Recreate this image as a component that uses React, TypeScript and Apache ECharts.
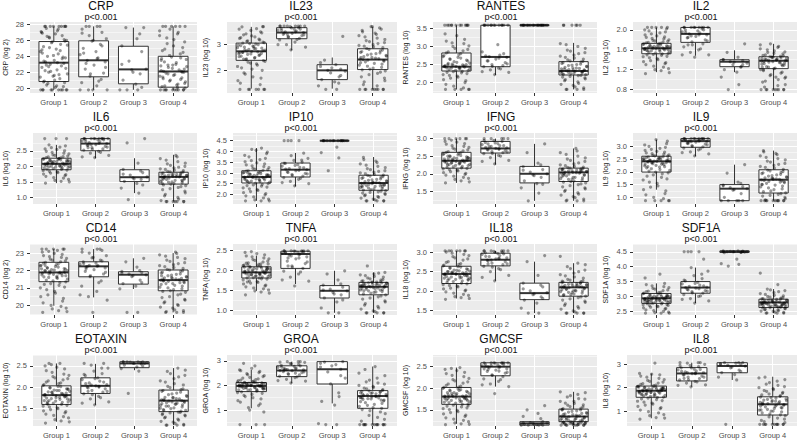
import React, { useEffect, useRef } from "react";
import * as echarts from "echarts";

const GROUPS = ["Group 1", "Group 2", "Group 3", "Group 4"];
const MARKERS = ["CRP", "IL23", "RANTES", "IL2", "IL6", "IP10", "IFNG", "IL9", "CD14", "TNFA", "IL18", "SDF1A", "EOTAXIN", "GROA", "GMCSF", "IL8"];
const Y_TITLES = ["CRP (log 2)", "IL23 (log 10)", "RANTES (log 10)", "IL2 (log 10)", "IL6 (log 10)", "IP10 (log 10)", "IFNG (log 10)", "IL9 (log 10)", "CD14 (log 2)", "TNFA (log 10)", "IL18 (log 10)", "SDF1A (log 10)", "EOTAXIN (log 10)", "GROA (log 10)", "GMCSF (log 10)", "IL8 (log 10)"];
const P_LABELS = ["p<0.001", "p<0.001", "p<0.001", "p<0.001", "p<0.001", "p<0.001", "p<0.001", "p<0.001", "p<0.001", "p<0.001", "p<0.001", "p<0.001", "p<0.001", "p<0.001", "p<0.001", "p<0.001"];

const Y_LIMITS = [[19.4, 28.3], [1.12, 3.88], [1.71, 3.68], [0.73, 2.16], [0.79, 3.07], [1.55, 4.86], [1.14, 3.16], [0.74, 3.52], [19.45, 23.52], [0.875, 2.65], [1.37, 3.22], [2.38, 4.76], [1.08, 2.76], [0.35, 3.24], [1.13, 2.77], [0.36, 3.4]];
const MAJOR_TICKS = [[20, 22, 24, 26, 28], [2, 3], [2.0, 2.5, 3.0, 3.5], [0.8, 1.2, 1.6, 2.0], [1.0, 1.5, 2.0, 2.5], [2.0, 2.5, 3.0, 3.5, 4.0, 4.5], [1.5, 2.0, 2.5, 3.0], [1.0, 1.5, 2.0, 2.5, 3.0], [20, 21, 22, 23], [1.0, 1.5, 2.0, 2.5], [1.5, 2.0, 2.5, 3.0], [2.5, 3.0, 3.5, 4.0, 4.5], [1.5, 2.0, 2.5], [1, 2, 3], [1.5, 2.0, 2.5], [1, 2, 3]];
const MINOR_TICKS = [[21, 23, 25, 27], [1.5, 2.5, 3.5], [1.75, 2.25, 2.75, 3.25], [1.0, 1.4, 1.8], [1.25, 1.75, 2.25, 2.75], [1.75, 2.25, 2.75, 3.25, 3.75, 4.25, 4.75], [1.25, 1.75, 2.25, 2.75], [1.25, 1.75, 2.25, 2.75, 3.25], [19.5, 20.5, 21.5, 22.5, 23.5], [1.25, 1.75, 2.25], [1.75, 2.25, 2.75], [2.75, 3.25, 3.75, 4.25, 4.75], [1.25, 1.75, 2.25, 2.75], [0.5, 1.5, 2.5], [1.25, 1.75, 2.25, 2.75], [0.5, 1.5, 2.5]];
const TICK_DECIMALS = [0, 0, 1, 1, 1, 1, 1, 1, 0, 1, 1, 1, 1, 0, 1, 0];

// box stats per group: [lower whisker, Q1, median, Q3, upper whisker]
const BOX_CRP = [[19.8, 20.84, 23.2, 25.85, 27.75], [19.8, 21.43, 23.5, 25.94, 27.75], [19.8, 20.55, 22.36, 25.26, 27.6], [19.8, 20.13, 22.1, 24.0, 27.75]];
const BOX_IL23 = [[1.29, 2.39, 2.74, 3.06, 3.69], [2.78, 3.23, 3.47, 3.66, 3.71], [1.29, 1.64, 2.0, 2.22, 2.5], [1.26, 2.03, 2.42, 2.84, 3.69]];
const BOX_RANTES = [[1.81, 2.32, 2.44, 2.82, 3.59], [2.21, 2.44, 2.71, 3.59, 3.59], [3.59, 3.59, 3.59, 3.59, 3.59], [1.81, 2.21, 2.32, 2.58, 3.1]];
const BOX_IL2 = [[1.15, 1.52, 1.63, 1.73, 2.05], [1.48, 1.75, 1.92, 2.05, 2.05], [1.15, 1.26, 1.36, 1.4, 1.59], [0.8, 1.22, 1.38, 1.46, 1.72]];
const BOX_IL6 = [[1.46, 1.89, 2.08, 2.26, 2.69], [2.26, 2.5, 2.73, 2.89, 2.89], [1.14, 1.51, 1.65, 1.89, 2.26], [0.87, 1.43, 1.66, 1.81, 2.37]];
const BOX_IP10 = [[1.7, 2.53, 2.81, 3.1, 4.16], [2.37, 2.81, 3.15, 3.46, 3.93], [4.5, 4.5, 4.5, 4.5, 4.5], [1.7, 2.19, 2.53, 2.89, 3.74]];
const BOX_IFNG = [[1.74, 2.16, 2.37, 2.61, 3.0], [2.26, 2.59, 2.72, 2.92, 3.0], [1.23, 1.74, 2.0, 2.21, 2.85], [1.23, 1.78, 2.04, 2.16, 2.72]];
const BOX_IL9 = [[1.3, 1.99, 2.41, 2.61, 3.26], [2.61, 2.96, 3.2, 3.3, 3.3], [0.87, 0.87, 1.34, 1.5, 2.28], [0.87, 1.17, 1.69, 2.08, 2.83]];
const BOX_CD14 = [[19.98, 21.36, 21.89, 22.47, 23.23], [20.46, 21.64, 22.24, 22.5, 23.23], [20.94, 21.22, 21.76, 21.93, 22.7], [19.6, 20.84, 21.45, 22.03, 23.0]];
const BOX_TNFA = [[1.48, 1.8, 1.94, 2.08, 2.36], [1.65, 2.04, 2.4, 2.47, 2.48], [0.93, 1.3, 1.48, 1.61, 1.98], [0.93, 1.38, 1.58, 1.69, 1.94]];
const BOX_IL18 = [[1.8, 2.19, 2.44, 2.64, 3.04], [2.26, 2.65, 2.81, 2.98, 3.04], [1.42, 1.77, 1.94, 2.2, 2.76], [1.42, 1.86, 2.09, 2.22, 2.72]];
const BOX_SDF1A = [[2.44, 2.77, 2.94, 3.1, 3.44], [2.78, 3.11, 3.3, 3.5, 3.97], [4.47, 4.48, 4.5, 4.53, 4.53], [2.44, 2.63, 2.8, 2.91, 3.25]];
const BOX_EOTAXIN = [[1.18, 1.59, 1.81, 2.03, 2.56], [1.58, 1.85, 2.03, 2.22, 2.55], [2.4, 2.46, 2.56, 2.6, 2.6], [1.1, 1.42, 1.68, 1.93, 2.45]];
const BOX_GROA = [[1.07, 1.75, 1.98, 2.12, 2.63], [2.09, 2.36, 2.61, 2.8, 2.97], [1.27, 2.06, 2.66, 2.97, 2.97], [0.41, 1.07, 1.57, 1.79, 2.77]];
const BOX_GMCSF = [[1.18, 1.63, 1.81, 2.02, 2.48], [2.04, 2.29, 2.5, 2.59, 2.59], [1.15, 1.15, 1.19, 1.23, 1.23], [1.15, 1.23, 1.35, 1.52, 1.92]];
const BOX_IL8 = [[0.69, 1.59, 1.87, 2.07, 2.61], [2.04, 2.29, 2.61, 2.86, 3.07], [2.33, 2.64, 2.93, 3.07, 3.07], [0.43, 0.83, 1.29, 1.61, 2.47]];

// observed points per group (first reading)
const PTS_CRP = [
  [19.8, 19.8, 19.8, 19.8, 19.8, 19.8, 20.1, 20.4, 20.7, 20.9, 21.2, 21.5, 21.8, 22.0, 22.3, 22.6, 22.8, 23.0, 23.1, 23.3, 23.5, 23.8, 24.0, 24.3, 24.6, 24.9, 25.2, 25.5, 25.8, 26.0, 26.3, 26.6, 26.9, 27.2, 27.5, 27.75, 27.75, 27.75, 27.75, 27.75],
  [19.8, 19.8, 19.8, 20.3, 20.7, 21.1, 21.5, 21.9, 22.4, 22.9, 23.3, 23.5, 23.8, 24.2, 24.6, 25.0, 25.5, 25.9, 26.2, 26.6, 27.0, 27.4, 27.75, 27.75],
  [19.8, 19.8, 19.8, 20.5, 21.0, 21.8, 22.3, 22.4, 23.4, 24.6, 25.3, 26.2, 27.6, 27.6],
  [19.8, 19.8, 19.8, 19.8, 19.8, 19.8, 20.0, 20.2, 20.5, 20.8, 21.0, 21.3, 21.5, 21.7, 21.9, 22.0, 22.1, 22.3, 22.5, 22.7, 22.9, 23.2, 23.5, 23.8, 24.1, 24.5, 24.9, 25.3, 25.8, 26.3, 26.8, 27.2, 27.75, 27.75, 27.75, 27.75],
];
const PTS_IL23 = [
  [1.26, 1.26, 1.26, 1.26, 1.45, 1.6, 1.75, 1.9, 2.0, 2.1, 2.2, 2.28, 2.35, 2.42, 2.48, 2.53, 2.58, 2.62, 2.66, 2.7, 2.74, 2.77, 2.8, 2.84, 2.88, 2.92, 2.96, 3.0, 3.04, 3.08, 3.13, 3.18, 3.24, 3.3, 3.38, 3.46, 3.55, 3.62, 3.69, 3.7],
  [2.8, 2.9, 3.0, 3.1, 3.18, 3.24, 3.3, 3.35, 3.4, 3.44, 3.47, 3.5, 3.53, 3.56, 3.6, 3.63, 3.66, 3.7, 3.72, 3.72, 3.72, 3.72, 3.72, 3.72],
  [1.26, 1.26, 1.4, 1.55, 1.64, 1.75, 1.9, 1.97, 2.0, 2.05, 2.15, 2.22, 2.4, 3.32],
  [1.26, 1.26, 1.26, 1.26, 1.26, 1.45, 1.6, 1.75, 1.88, 1.98, 2.05, 2.12, 2.2, 2.27, 2.33, 2.38, 2.42, 2.46, 2.5, 2.55, 2.6, 2.65, 2.7, 2.76, 2.82, 2.88, 2.94, 3.0, 3.08, 3.16, 3.25, 3.35, 3.45, 3.55, 3.65, 3.7],
];
const PTS_RANTES = [
  [1.81, 1.81, 1.81, 1.9, 2.0, 2.08, 2.15, 2.2, 2.25, 2.28, 2.31, 2.34, 2.37, 2.4, 2.42, 2.44, 2.46, 2.48, 2.5, 2.53, 2.56, 2.6, 2.64, 2.68, 2.72, 2.77, 2.82, 2.88, 2.95, 3.02, 3.1, 3.2, 3.35, 3.59, 3.59, 3.59, 3.59, 3.59, 3.59, 3.59],
  [2.22, 2.28, 2.35, 2.4, 2.44, 2.47, 2.5, 2.55, 2.6, 2.65, 2.7, 2.72, 2.76, 2.85, 3.05, 3.59, 3.59, 3.59, 3.59, 3.59, 3.59, 3.59, 3.59, 3.59],
  [3.59, 3.59, 3.59, 3.59, 3.59, 3.59, 3.59, 3.59, 3.59, 3.59, 3.59, 3.59, 3.59, 3.59],
  [1.81, 1.81, 1.85, 1.92, 1.98, 2.05, 2.1, 2.15, 2.19, 2.22, 2.25, 2.27, 2.29, 2.31, 2.33, 2.35, 2.37, 2.39, 2.41, 2.44, 2.47, 2.5, 2.53, 2.57, 2.6, 2.65, 2.7, 2.76, 2.83, 2.9, 3.0, 3.08, 3.59, 3.59, 3.59, 3.59],
];
const PTS_IL2 = [
  [1.12, 1.18, 1.22, 1.27, 1.32, 1.36, 1.4, 1.44, 1.47, 1.5, 1.52, 1.54, 1.56, 1.58, 1.6, 1.61, 1.62, 1.63, 1.64, 1.65, 1.66, 1.67, 1.68, 1.7, 1.71, 1.72, 1.74, 1.76, 1.78, 1.8, 1.83, 1.86, 1.9, 1.94, 1.98, 2.02, 2.05, 2.05, 2.05, 1.6],
  [1.45, 1.5, 1.55, 1.6, 1.66, 1.72, 1.76, 1.8, 1.84, 1.87, 1.9, 1.92, 1.94, 1.96, 1.98, 2.0, 2.02, 2.05, 2.05, 2.05, 2.05, 2.05, 2.05, 1.7],
  [0.8, 0.9, 1.05, 1.15, 1.2, 1.26, 1.3, 1.33, 1.36, 1.38, 1.4, 1.45, 1.55, 1.72],
  [0.8, 0.8, 0.8, 0.8, 0.8, 0.85, 0.9, 0.95, 1.0, 1.05, 1.1, 1.15, 1.2, 1.23, 1.26, 1.29, 1.32, 1.34, 1.36, 1.38, 1.39, 1.4, 1.42, 1.44, 1.46, 1.48, 1.5, 1.53, 1.56, 1.6, 1.65, 1.7, 1.05, 1.2, 1.35, 1.45],
];
const PTS_IL6 = [
  [1.46, 1.52, 1.58, 1.64, 1.7, 1.75, 1.8, 1.84, 1.88, 1.91, 1.94, 1.97, 1.99, 2.01, 2.03, 2.05, 2.07, 2.09, 2.11, 2.13, 2.15, 2.17, 2.19, 2.21, 2.23, 2.25, 2.28, 2.31, 2.35, 2.4, 2.45, 2.5, 2.56, 2.62, 2.69, 2.89, 2.89, 2.0, 2.1, 2.2],
  [2.28, 2.35, 2.42, 2.48, 2.52, 2.56, 2.6, 2.64, 2.67, 2.7, 2.73, 2.76, 2.79, 2.82, 2.85, 2.87, 2.89, 2.89, 2.89, 2.89, 2.89, 2.89, 2.89, 2.6],
  [0.93, 1.14, 1.3, 1.45, 1.52, 1.58, 1.63, 1.66, 1.72, 1.8, 1.9, 2.1, 2.75, 2.89],
  [0.87, 0.87, 0.87, 0.87, 0.95, 1.05, 1.15, 1.25, 1.32, 1.38, 1.43, 1.47, 1.51, 1.55, 1.58, 1.61, 1.64, 1.66, 1.68, 1.7, 1.72, 1.74, 1.76, 1.79, 1.82, 1.86, 1.9, 1.95, 2.0, 2.08, 2.15, 2.25, 2.35, 1.6, 1.7, 1.5],
];
const PTS_IP10 = [
  [1.7, 1.7, 1.78, 1.88, 1.98, 2.08, 2.18, 2.26, 2.34, 2.41, 2.47, 2.52, 2.57, 2.62, 2.66, 2.7, 2.74, 2.78, 2.81, 2.84, 2.87, 2.9, 2.93, 2.96, 3.0, 3.04, 3.08, 3.12, 3.18, 3.25, 3.33, 3.42, 3.52, 3.62, 3.75, 3.9, 4.05, 4.16, 2.6, 2.9],
  [2.4, 2.5, 2.6, 2.7, 2.78, 2.85, 2.92, 2.98, 3.05, 3.1, 3.15, 3.2, 3.26, 3.32, 3.38, 3.44, 3.5, 3.58, 3.68, 3.8, 3.92, 4.5, 4.5, 4.5],
  [3.1, 3.7, 3.95, 4.2, 4.5, 4.5, 4.5, 4.5, 4.5, 4.5, 4.5, 4.5, 4.5, 4.5],
  [1.7, 1.7, 1.7, 1.78, 1.86, 1.94, 2.0, 2.06, 2.12, 2.17, 2.22, 2.27, 2.32, 2.37, 2.41, 2.45, 2.49, 2.53, 2.57, 2.61, 2.65, 2.7, 2.75, 2.8, 2.85, 2.9, 2.96, 3.03, 3.1, 3.2, 3.3, 3.42, 3.55, 3.72, 2.4, 2.5],
];
const PTS_IFNG = [
  [1.74, 1.8, 1.87, 1.93, 1.98, 2.03, 2.08, 2.12, 2.15, 2.18, 2.21, 2.24, 2.27, 2.3, 2.32, 2.34, 2.36, 2.38, 2.4, 2.42, 2.44, 2.46, 2.49, 2.52, 2.55, 2.58, 2.61, 2.65, 2.7, 2.75, 2.8, 2.86, 2.92, 3.0, 3.0, 3.0, 3.0, 2.35, 2.25, 2.45],
  [2.28, 2.38, 2.46, 2.52, 2.57, 2.6, 2.63, 2.66, 2.69, 2.72, 2.74, 2.77, 2.8, 2.83, 2.86, 2.89, 2.92, 2.95, 3.0, 3.0, 3.0, 3.0, 2.7, 2.85],
  [1.23, 1.45, 1.6, 1.72, 1.8, 1.9, 1.97, 2.0, 2.05, 2.12, 2.2, 2.3, 2.6, 2.85],
  [1.23, 1.23, 1.28, 1.35, 1.42, 1.5, 1.57, 1.63, 1.69, 1.74, 1.78, 1.82, 1.86, 1.9, 1.94, 1.97, 2.0, 2.02, 2.04, 2.06, 2.08, 2.1, 2.12, 2.14, 2.16, 2.19, 2.23, 2.28, 2.35, 2.42, 2.5, 2.6, 2.72, 1.95, 2.05, 1.85],
];
const PTS_IL9 = [
  [0.87, 0.87, 0.87, 1.0, 1.15, 1.3, 1.45, 1.6, 1.72, 1.83, 1.92, 1.99, 2.06, 2.12, 2.18, 2.23, 2.28, 2.32, 2.36, 2.39, 2.41, 2.43, 2.45, 2.47, 2.5, 2.53, 2.56, 2.59, 2.62, 2.66, 2.71, 2.77, 2.84, 2.92, 3.0, 3.1, 3.26, 2.3, 2.4, 2.5],
  [2.62, 2.7, 2.78, 2.86, 2.93, 2.98, 3.03, 3.08, 3.12, 3.16, 3.19, 3.21, 3.23, 3.25, 3.27, 3.28, 3.29, 3.3, 3.3, 3.3, 3.3, 3.3, 3.3, 3.1],
  [0.87, 0.87, 0.87, 0.87, 1.0, 1.15, 1.28, 1.34, 1.38, 1.42, 1.48, 1.6, 1.95, 2.28],
  [0.87, 0.87, 0.87, 0.87, 0.87, 0.87, 0.95, 1.05, 1.12, 1.18, 1.25, 1.33, 1.41, 1.48, 1.55, 1.61, 1.66, 1.7, 1.74, 1.78, 1.83, 1.88, 1.93, 1.98, 2.04, 2.1, 2.17, 2.25, 2.33, 2.42, 2.52, 2.62, 2.72, 2.83, 1.6, 1.75],
];
const PTS_CD14 = [
  [19.6, 19.7, 19.85, 20.0, 20.25, 20.5, 20.7, 20.9, 21.05, 21.2, 21.3, 21.4, 21.5, 21.6, 21.68, 21.75, 21.82, 21.88, 21.93, 21.98, 22.03, 22.08, 22.14, 22.2, 22.27, 22.34, 22.42, 22.5, 22.6, 22.7, 22.8, 22.92, 23.05, 23.15, 23.23, 23.23, 23.23, 21.85, 22.0, 21.7],
  [19.6, 20.3, 20.5, 20.8, 21.1, 21.4, 21.65, 21.8, 21.95, 22.05, 22.15, 22.22, 22.28, 22.35, 22.42, 22.5, 22.6, 22.72, 22.85, 23.0, 23.15, 23.23, 23.23, 22.2],
  [19.6, 19.6, 20.95, 21.1, 21.25, 21.45, 21.65, 21.75, 21.8, 21.88, 21.95, 22.2, 22.5, 22.7],
  [19.6, 19.6, 19.7, 19.85, 20.0, 20.15, 20.3, 20.45, 20.6, 20.75, 20.85, 20.95, 21.05, 21.15, 21.25, 21.35, 21.42, 21.48, 21.55, 21.62, 21.7, 21.78, 21.86, 21.95, 22.03, 22.12, 22.22, 22.33, 22.45, 22.6, 22.75, 22.9, 23.05, 21.5, 21.3, 21.6],
];
const PTS_TNFA = [
  [1.38, 1.45, 1.5, 1.55, 1.6, 1.65, 1.69, 1.73, 1.77, 1.8, 1.83, 1.85, 1.87, 1.89, 1.91, 1.93, 1.95, 1.97, 1.99, 2.01, 2.03, 2.05, 2.07, 2.09, 2.11, 2.14, 2.17, 2.2, 2.24, 2.28, 2.33, 2.38, 2.44, 1.9, 1.95, 2.0, 1.85, 2.05, 1.7, 2.15],
  [1.6, 1.72, 1.82, 1.9, 1.97, 2.04, 2.1, 2.16, 2.22, 2.28, 2.33, 2.37, 2.4, 2.42, 2.44, 2.45, 2.46, 2.47, 2.48, 2.48, 2.48, 2.48, 2.3, 2.1],
  [0.93, 0.93, 1.05, 1.2, 1.3, 1.38, 1.44, 1.48, 1.52, 1.57, 1.62, 1.75, 1.9, 1.98],
  [0.93, 0.93, 0.93, 0.98, 1.05, 1.12, 1.2, 1.27, 1.33, 1.38, 1.42, 1.46, 1.5, 1.53, 1.56, 1.58, 1.6, 1.62, 1.64, 1.66, 1.68, 1.7, 1.72, 1.75, 1.78, 1.82, 1.86, 1.9, 1.94, 2.1, 1.55, 1.6, 1.45, 1.65, 1.5, 1.7],
];
const PTS_IL18 = [
  [1.78, 1.82, 1.88, 1.94, 2.0, 2.05, 2.1, 2.14, 2.18, 2.22, 2.26, 2.3, 2.33, 2.36, 2.39, 2.42, 2.44, 2.46, 2.48, 2.5, 2.53, 2.56, 2.59, 2.62, 2.65, 2.69, 2.74, 2.8, 2.86, 2.92, 2.98, 3.04, 3.04, 3.04, 3.04, 2.4, 2.45, 2.35, 2.5, 2.3],
  [2.26, 2.4, 2.5, 2.58, 2.64, 2.68, 2.72, 2.76, 2.8, 2.83, 2.86, 2.89, 2.92, 2.95, 2.97, 2.99, 3.01, 3.03, 3.04, 3.04, 3.04, 3.04, 2.85, 2.7],
  [1.42, 1.42, 1.55, 1.68, 1.76, 1.84, 1.9, 1.95, 2.0, 2.1, 2.2, 2.4, 2.76, 2.92],
  [1.42, 1.42, 1.42, 1.48, 1.55, 1.62, 1.7, 1.76, 1.82, 1.86, 1.9, 1.94, 1.98, 2.01, 2.04, 2.07, 2.09, 2.11, 2.13, 2.15, 2.17, 2.19, 2.21, 2.24, 2.28, 2.33, 2.39, 2.46, 2.54, 2.63, 2.72, 2.9, 2.0, 2.1, 2.2, 1.95],
];
const PTS_SDF1A = [
  [2.44, 2.44, 2.48, 2.53, 2.58, 2.62, 2.66, 2.7, 2.73, 2.76, 2.79, 2.82, 2.84, 2.86, 2.88, 2.9, 2.92, 2.94, 2.96, 2.98, 3.0, 3.02, 3.04, 3.07, 3.1, 3.13, 3.16, 3.2, 3.25, 3.3, 3.36, 3.44, 3.62, 3.75, 2.9, 2.85, 2.95, 3.0, 2.8, 2.7],
  [2.78, 2.85, 2.93, 3.0, 3.06, 3.11, 3.16, 3.2, 3.24, 3.28, 3.31, 3.34, 3.38, 3.42, 3.47, 3.52, 3.6, 3.7, 3.85, 3.97, 4.25, 4.5, 4.5, 4.5],
  [4.02, 4.08, 4.1, 4.25, 4.47, 4.48, 4.5, 4.5, 4.51, 4.52, 4.53, 4.53, 4.5, 4.49],
  [2.44, 2.44, 2.47, 2.5, 2.53, 2.56, 2.59, 2.62, 2.64, 2.66, 2.68, 2.7, 2.72, 2.74, 2.76, 2.78, 2.8, 2.82, 2.84, 2.86, 2.88, 2.9, 2.92, 2.95, 2.98, 3.02, 3.07, 3.13, 3.2, 3.25, 3.4, 3.78, 2.7, 2.75, 2.65, 2.85],
];
const PTS_EOTAXIN = [
  [1.15, 1.2, 1.27, 1.33, 1.39, 1.44, 1.49, 1.53, 1.57, 1.61, 1.64, 1.67, 1.7, 1.73, 1.76, 1.79, 1.81, 1.83, 1.86, 1.89, 1.92, 1.95, 1.98, 2.01, 2.04, 2.08, 2.12, 2.17, 2.22, 2.28, 2.35, 2.43, 2.5, 2.56, 2.56, 1.8, 1.75, 1.85, 1.65, 1.95],
  [1.58, 1.65, 1.72, 1.78, 1.84, 1.88, 1.92, 1.96, 2.0, 2.03, 2.06, 2.1, 2.14, 2.18, 2.22, 2.27, 2.32, 2.38, 2.45, 2.52, 2.56, 2.56, 2.0, 1.9],
  [1.85, 2.38, 2.44, 2.48, 2.52, 2.55, 2.57, 2.58, 2.59, 2.6, 2.6, 2.6, 2.6, 2.56],
  [1.1, 1.1, 1.12, 1.17, 1.22, 1.27, 1.32, 1.37, 1.41, 1.45, 1.49, 1.53, 1.57, 1.6, 1.63, 1.66, 1.69, 1.72, 1.75, 1.78, 1.82, 1.86, 1.9, 1.94, 1.99, 2.05, 2.12, 2.2, 2.28, 2.37, 2.45, 1.5, 1.6, 1.7, 1.4, 1.65],
];
const PTS_GROA = [
  [0.41, 0.41, 0.92, 1.1, 1.25, 1.38, 1.5, 1.6, 1.68, 1.74, 1.79, 1.83, 1.87, 1.9, 1.93, 1.96, 1.98, 2.0, 2.02, 2.04, 2.06, 2.08, 2.1, 2.12, 2.15, 2.18, 2.22, 2.27, 2.33, 2.4, 2.48, 2.57, 2.63, 2.8, 2.9, 1.95, 2.0, 1.85, 2.05, 1.9],
  [2.1, 2.18, 2.25, 2.32, 2.38, 2.43, 2.48, 2.52, 2.56, 2.6, 2.63, 2.66, 2.7, 2.74, 2.78, 2.82, 2.86, 2.9, 2.94, 2.97, 2.97, 2.6, 2.5, 2.7],
  [0.41, 0.41, 0.45, 1.2, 1.35, 1.55, 2.06, 2.3, 2.55, 2.66, 2.75, 2.85, 2.95, 2.97],
  [0.41, 0.41, 0.41, 0.41, 0.41, 0.41, 0.41, 0.55, 0.7, 0.85, 0.98, 1.07, 1.15, 1.23, 1.3, 1.37, 1.43, 1.49, 1.54, 1.58, 1.62, 1.66, 1.7, 1.74, 1.78, 1.83, 1.89, 1.96, 2.05, 2.15, 2.3, 2.5, 2.77, 1.5, 1.6, 1.45],
];
const PTS_GMCSF = [
  [1.16, 1.18, 1.23, 1.29, 1.35, 1.41, 1.46, 1.51, 1.55, 1.59, 1.63, 1.66, 1.69, 1.72, 1.75, 1.77, 1.79, 1.81, 1.83, 1.85, 1.88, 1.91, 1.94, 1.97, 2.0, 2.03, 2.07, 2.12, 2.17, 2.23, 2.3, 2.37, 2.44, 2.48, 1.8, 1.75, 1.85, 1.7, 1.9, 1.6],
  [1.88, 2.04, 2.1, 2.16, 2.22, 2.27, 2.31, 2.35, 2.39, 2.42, 2.45, 2.48, 2.5, 2.52, 2.54, 2.56, 2.58, 2.59, 2.59, 2.59, 2.59, 2.45, 2.4, 2.5],
  [1.15, 1.15, 1.15, 1.16, 1.17, 1.18, 1.19, 1.2, 1.21, 1.23, 1.35, 1.42, 1.5, 1.6],
  [1.15, 1.15, 1.15, 1.16, 1.17, 1.18, 1.19, 1.2, 1.21, 1.22, 1.23, 1.25, 1.27, 1.29, 1.31, 1.33, 1.35, 1.37, 1.39, 1.42, 1.45, 1.48, 1.51, 1.54, 1.58, 1.62, 1.66, 1.7, 1.75, 1.8, 1.86, 1.92, 1.3, 1.4, 1.25, 1.2],
];
const PTS_IL8 = [
  [0.65, 0.72, 0.85, 0.98, 1.1, 1.2, 1.3, 1.38, 1.45, 1.52, 1.58, 1.63, 1.67, 1.71, 1.75, 1.78, 1.81, 1.84, 1.87, 1.9, 1.93, 1.96, 1.99, 2.02, 2.05, 2.09, 2.14, 2.2, 2.27, 2.35, 2.45, 2.55, 2.61, 3.05, 1.85, 1.9, 1.8, 1.95, 1.7, 2.0],
  [2.04, 2.12, 2.2, 2.27, 2.33, 2.39, 2.45, 2.5, 2.55, 2.6, 2.64, 2.68, 2.72, 2.76, 2.8, 2.85, 2.9, 2.95, 3.0, 3.05, 3.07, 3.07, 2.6, 2.4],
  [0.43, 2.33, 2.45, 2.56, 2.65, 2.75, 2.85, 2.92, 2.97, 3.0, 3.03, 3.05, 3.07, 3.07],
  [0.43, 0.43, 0.43, 0.43, 0.43, 0.43, 0.5, 0.6, 0.7, 0.8, 0.88, 0.96, 1.04, 1.11, 1.18, 1.25, 1.3, 1.35, 1.4, 1.45, 1.5, 1.55, 1.6, 1.66, 1.73, 1.8, 1.88, 1.96, 2.05, 2.15, 2.28, 2.42, 1.2, 1.3, 1.4, 1.0],
];

// observed points per group (second reading, denser parts of the clouds)
const MORE_CRP = [
  [19.8, 19.8, 19.8, 19.8, 20.2, 20.6, 21.0, 21.4, 21.7, 22.1, 22.5, 22.9, 23.2, 23.4, 23.7, 24.1, 24.4, 24.7, 25.1, 25.4, 25.7, 26.1, 26.5, 26.8, 27.1, 27.4, 27.75, 27.75, 27.75, 27.75, 20.8, 21.6, 22.7, 23.9, 24.8, 25.9, 26.4, 27.0, 20.3, 22.2],
  [19.8, 20.9, 21.8, 22.6, 23.1, 23.7, 24.4, 25.3, 26.0, 26.9, 27.75, 27.75],
  [20.1, 22.0, 23.0, 26.8],
  [19.8, 19.8, 19.8, 19.8, 20.1, 20.3, 20.6, 20.9, 21.1, 21.4, 21.6, 21.8, 22.0, 22.2, 22.4, 22.6, 22.8, 23.0, 23.3, 23.6, 23.9, 24.3, 24.7, 25.1, 25.6, 26.1, 26.6, 27.0, 27.4, 27.75, 27.75, 20.4, 21.2, 22.1, 22.9, 23.7],
];
const MORE_IL23 = [
  [1.26, 1.26, 1.26, 1.5, 1.7, 1.85, 2.05, 2.15, 2.25, 2.32, 2.38, 2.44, 2.5, 2.55, 2.6, 2.64, 2.68, 2.72, 2.76, 2.79, 2.82, 2.86, 2.9, 2.94, 2.98, 3.02, 3.06, 3.1, 3.15, 3.21, 3.27, 3.34, 3.42, 3.5, 3.6, 3.7, 2.45, 2.65, 2.85, 2.7],
  [3.0, 3.2, 3.3, 3.38, 3.45, 3.5, 3.55, 3.6, 3.65, 3.72, 3.72, 3.4],
  [1.8, 2.1, 2.3, 1.5],
  [1.26, 1.26, 1.26, 1.26, 1.4, 1.55, 1.7, 1.83, 1.93, 2.02, 2.09, 2.16, 2.24, 2.3, 2.36, 2.4, 2.44, 2.48, 2.53, 2.58, 2.63, 2.68, 2.73, 2.79, 2.85, 2.91, 2.97, 3.04, 3.12, 3.2, 3.3, 3.4, 3.5, 3.6, 3.7, 2.5],
];
const MORE_RANTES = [
  [1.81, 1.81, 1.85, 1.95, 2.05, 2.12, 2.18, 2.22, 2.27, 2.3, 2.33, 2.36, 2.38, 2.41, 2.43, 2.45, 2.47, 2.49, 2.51, 2.54, 2.58, 2.62, 2.66, 2.7, 2.75, 2.8, 2.85, 2.92, 3.0, 3.08, 3.15, 3.3, 3.59, 3.59, 3.59, 3.59, 3.59, 2.45, 2.4, 2.5],
  [2.3, 2.38, 2.45, 2.52, 2.6, 2.68, 2.74, 2.8, 3.59, 3.59, 3.59, 3.59],
  [3.59, 3.59, 3.59, 3.59],
  [1.81, 1.81, 1.88, 1.95, 2.02, 2.08, 2.13, 2.17, 2.2, 2.23, 2.26, 2.28, 2.3, 2.32, 2.34, 2.36, 2.38, 2.4, 2.42, 2.45, 2.48, 2.51, 2.55, 2.59, 2.63, 2.68, 2.73, 2.8, 2.87, 2.95, 3.05, 3.59, 3.59, 2.3, 2.35, 2.25],
];
const MORE_IL2 = [
  [1.14, 1.2, 1.25, 1.3, 1.34, 1.38, 1.42, 1.46, 1.49, 1.51, 1.53, 1.55, 1.57, 1.59, 1.6, 1.62, 1.63, 1.64, 1.65, 1.66, 1.67, 1.68, 1.69, 1.7, 1.72, 1.73, 1.75, 1.77, 1.79, 1.82, 1.85, 1.88, 1.92, 1.96, 2.0, 2.05, 2.05, 1.61, 1.65, 1.58],
  [1.5, 1.62, 1.7, 1.78, 1.85, 1.9, 1.95, 2.0, 2.05, 2.05, 2.05, 1.88],
  [1.3, 1.35, 1.4, 1.25],
  [0.8, 0.8, 0.8, 0.8, 0.88, 0.97, 1.03, 1.08, 1.13, 1.18, 1.22, 1.25, 1.28, 1.31, 1.33, 1.35, 1.37, 1.39, 1.41, 1.43, 1.45, 1.47, 1.49, 1.52, 1.55, 1.58, 1.62, 1.67, 1.72, 1.38, 1.4, 1.42, 1.36, 1.3, 1.45, 1.25],
];
const MORE_IL6 = [
  [1.5, 1.55, 1.62, 1.68, 1.73, 1.78, 1.82, 1.86, 1.9, 1.93, 1.96, 1.98, 2.0, 2.02, 2.04, 2.06, 2.08, 2.1, 2.12, 2.14, 2.16, 2.18, 2.2, 2.22, 2.24, 2.27, 2.3, 2.33, 2.37, 2.42, 2.48, 2.54, 2.6, 2.66, 2.89, 2.05, 2.15, 1.95, 2.25, 2.08],
  [2.3, 2.45, 2.55, 2.62, 2.68, 2.74, 2.8, 2.85, 2.89, 2.89, 2.89, 2.7],
  [1.4, 1.6, 1.75, 1.85],
  [0.87, 0.87, 0.87, 0.9, 1.0, 1.1, 1.2, 1.28, 1.35, 1.4, 1.45, 1.49, 1.53, 1.56, 1.59, 1.62, 1.65, 1.67, 1.69, 1.71, 1.73, 1.75, 1.78, 1.81, 1.84, 1.88, 1.92, 1.97, 2.03, 2.1, 2.2, 2.3, 1.65, 1.55, 1.75, 1.45],
];
const MORE_IP10 = [
  [1.7, 1.74, 1.83, 1.93, 2.03, 2.13, 2.22, 2.3, 2.38, 2.44, 2.5, 2.55, 2.59, 2.64, 2.68, 2.72, 2.76, 2.79, 2.82, 2.85, 2.88, 2.91, 2.94, 2.98, 3.02, 3.06, 3.1, 3.15, 3.21, 3.29, 3.37, 3.47, 3.57, 3.68, 3.82, 3.97, 4.1, 2.8, 2.7, 3.0],
  [2.55, 2.75, 2.88, 2.95, 3.02, 3.12, 3.18, 3.24, 3.35, 3.45, 3.6, 4.5],
  [4.5, 4.5, 4.5, 4.5],
  [1.7, 1.7, 1.74, 1.82, 1.9, 1.97, 2.03, 2.09, 2.15, 2.2, 2.25, 2.3, 2.35, 2.39, 2.43, 2.47, 2.51, 2.55, 2.59, 2.63, 2.68, 2.72, 2.78, 2.83, 2.88, 2.93, 3.0, 3.07, 3.15, 3.25, 3.36, 3.48, 3.62, 2.45, 2.55, 2.35],
];
const MORE_IFNG = [
  [1.77, 1.84, 1.9, 1.96, 2.01, 2.06, 2.1, 2.14, 2.17, 2.2, 2.23, 2.26, 2.29, 2.31, 2.33, 2.35, 2.37, 2.39, 2.41, 2.43, 2.45, 2.48, 2.51, 2.54, 2.57, 2.6, 2.63, 2.68, 2.73, 2.78, 2.84, 2.9, 2.96, 3.0, 3.0, 2.38, 2.32, 2.42, 2.28, 2.5],
  [2.35, 2.5, 2.58, 2.62, 2.68, 2.71, 2.75, 2.8, 2.88, 2.95, 3.0, 2.78],
  [1.7, 1.95, 2.1, 2.25],
  [1.23, 1.25, 1.32, 1.39, 1.46, 1.53, 1.6, 1.66, 1.71, 1.76, 1.8, 1.84, 1.88, 1.92, 1.96, 1.99, 2.01, 2.03, 2.05, 2.07, 2.09, 2.11, 2.13, 2.15, 2.18, 2.21, 2.25, 2.31, 2.38, 2.45, 2.55, 2.65, 2.0, 2.08, 1.9, 2.12],
];
const MORE_IL9 = [
  [0.87, 0.87, 0.95, 1.1, 1.25, 1.4, 1.55, 1.68, 1.78, 1.88, 1.96, 2.03, 2.09, 2.15, 2.2, 2.25, 2.3, 2.34, 2.37, 2.4, 2.42, 2.44, 2.46, 2.49, 2.52, 2.55, 2.58, 2.61, 2.64, 2.69, 2.74, 2.8, 2.88, 2.96, 3.05, 3.2, 2.35, 2.45, 2.55, 2.2],
  [2.75, 2.9, 3.0, 3.06, 3.14, 3.2, 3.24, 3.28, 3.3, 3.3, 3.3, 3.18],
  [0.87, 1.3, 1.45, 1.55],
  [0.87, 0.87, 0.87, 0.87, 0.87, 0.9, 1.0, 1.08, 1.15, 1.22, 1.3, 1.37, 1.44, 1.51, 1.58, 1.63, 1.68, 1.72, 1.76, 1.8, 1.85, 1.9, 1.96, 2.01, 2.07, 2.14, 2.21, 2.29, 2.38, 2.47, 2.57, 2.67, 2.78, 1.65, 1.7, 1.5],
];
const MORE_CD14 = [
  [19.65, 19.8, 19.95, 20.15, 20.4, 20.6, 20.8, 21.0, 21.15, 21.25, 21.35, 21.45, 21.55, 21.63, 21.7, 21.78, 21.85, 21.9, 21.95, 22.0, 22.05, 22.11, 22.17, 22.23, 22.3, 22.38, 22.46, 22.55, 22.65, 22.75, 22.86, 22.98, 23.1, 23.23, 23.23, 21.9, 21.8, 22.1, 21.6, 22.3],
  [20.6, 21.3, 21.7, 21.9, 22.1, 22.25, 22.4, 22.55, 22.75, 23.05, 23.23, 22.3],
  [21.3, 21.7, 21.85, 22.0],
  [19.6, 19.65, 19.75, 19.9, 20.05, 20.2, 20.35, 20.5, 20.65, 20.8, 20.9, 21.0, 21.1, 21.2, 21.3, 21.38, 21.45, 21.52, 21.58, 21.65, 21.73, 21.81, 21.9, 21.98, 22.07, 22.17, 22.28, 22.4, 22.52, 22.68, 22.82, 22.98, 21.4, 21.55, 21.25, 21.7],
];
const MORE_TNFA = [
  [1.42, 1.48, 1.53, 1.58, 1.62, 1.67, 1.71, 1.75, 1.78, 1.81, 1.84, 1.86, 1.88, 1.9, 1.92, 1.94, 1.96, 1.98, 2.0, 2.02, 2.04, 2.06, 2.08, 2.1, 2.12, 2.15, 2.18, 2.22, 2.26, 2.3, 2.35, 2.41, 2.46, 1.92, 1.97, 2.03, 1.88, 2.07, 1.8, 2.12],
  [1.75, 1.95, 2.07, 2.2, 2.3, 2.38, 2.42, 2.45, 2.47, 2.48, 2.48, 2.35],
  [1.25, 1.4, 1.5, 1.65],
  [0.93, 0.93, 0.96, 1.02, 1.09, 1.16, 1.23, 1.3, 1.35, 1.4, 1.44, 1.48, 1.51, 1.54, 1.57, 1.59, 1.61, 1.63, 1.65, 1.67, 1.69, 1.71, 1.73, 1.76, 1.8, 1.84, 1.88, 1.92, 1.58, 1.62, 1.52, 1.66, 1.48, 1.68, 1.56, 1.6],
];
const MORE_IL18 = [
  [1.8, 1.85, 1.91, 1.97, 2.02, 2.07, 2.12, 2.16, 2.2, 2.24, 2.28, 2.31, 2.34, 2.37, 2.4, 2.43, 2.45, 2.47, 2.49, 2.51, 2.54, 2.57, 2.6, 2.63, 2.67, 2.71, 2.76, 2.83, 2.89, 2.95, 3.01, 3.04, 3.04, 3.04, 2.42, 2.38, 2.47, 2.33, 2.52, 2.28],
  [2.35, 2.55, 2.62, 2.7, 2.78, 2.84, 2.9, 2.96, 3.0, 3.04, 3.04, 2.8],
  [1.8, 1.92, 2.05, 2.15],
  [1.42, 1.42, 1.45, 1.52, 1.59, 1.66, 1.73, 1.79, 1.84, 1.88, 1.92, 1.96, 2.0, 2.03, 2.06, 2.08, 2.1, 2.12, 2.14, 2.16, 2.18, 2.2, 2.23, 2.26, 2.3, 2.36, 2.42, 2.5, 2.58, 2.68, 2.05, 2.15, 1.9, 2.1, 2.0, 2.25],
];
const MORE_SDF1A = [
  [2.44, 2.46, 2.5, 2.55, 2.6, 2.64, 2.68, 2.72, 2.75, 2.78, 2.8, 2.83, 2.85, 2.87, 2.89, 2.91, 2.93, 2.95, 2.97, 2.99, 3.01, 3.03, 3.05, 3.08, 3.11, 3.14, 3.18, 3.22, 3.27, 3.33, 3.4, 2.88, 2.92, 2.96, 2.82, 3.02, 2.78, 2.9, 2.94, 2.86],
  [2.9, 3.02, 3.12, 3.18, 3.22, 3.26, 3.3, 3.36, 3.44, 3.55, 3.75, 4.5],
  [4.5, 4.5, 4.5, 4.48],
  [2.44, 2.45, 2.48, 2.51, 2.54, 2.57, 2.6, 2.63, 2.65, 2.67, 2.69, 2.71, 2.73, 2.75, 2.77, 2.79, 2.81, 2.83, 2.85, 2.87, 2.89, 2.91, 2.93, 2.96, 3.0, 3.04, 3.1, 3.16, 3.22, 2.72, 2.78, 2.68, 2.82, 2.74, 2.8, 2.76],
];
const MORE_EOTAXIN = [
  [1.18, 1.23, 1.3, 1.36, 1.42, 1.47, 1.51, 1.55, 1.59, 1.62, 1.65, 1.68, 1.71, 1.74, 1.77, 1.8, 1.82, 1.84, 1.87, 1.9, 1.93, 1.96, 1.99, 2.02, 2.06, 2.1, 2.15, 2.2, 2.25, 2.31, 2.39, 2.47, 2.53, 1.78, 1.82, 1.72, 1.88, 1.68, 1.92, 1.6],
  [1.62, 1.75, 1.82, 1.9, 1.98, 2.02, 2.08, 2.12, 2.2, 2.3, 2.45, 2.05],
  [2.5, 2.56, 2.6, 2.58],
  [1.1, 1.1, 1.14, 1.19, 1.24, 1.29, 1.34, 1.39, 1.43, 1.47, 1.51, 1.55, 1.58, 1.61, 1.64, 1.67, 1.7, 1.73, 1.76, 1.8, 1.84, 1.88, 1.92, 1.96, 2.02, 2.08, 2.15, 2.24, 2.32, 2.4, 1.55, 1.62, 1.45, 1.68, 1.75, 1.35],
];
const MORE_GROA = [
  [0.41, 1.0, 1.18, 1.32, 1.45, 1.55, 1.64, 1.71, 1.77, 1.81, 1.85, 1.88, 1.91, 1.94, 1.97, 1.99, 2.01, 2.03, 2.05, 2.07, 2.09, 2.11, 2.13, 2.16, 2.2, 2.24, 2.3, 2.36, 2.44, 2.52, 2.6, 2.7, 1.92, 1.98, 2.02, 1.88, 2.08, 1.82, 2.12, 1.95],
  [2.2, 2.35, 2.45, 2.55, 2.62, 2.68, 2.75, 2.8, 2.88, 2.95, 2.97, 2.65],
  [2.4, 2.8, 2.9, 1.7],
  [0.41, 0.41, 0.41, 0.41, 0.41, 0.41, 0.62, 0.78, 0.92, 1.02, 1.1, 1.19, 1.27, 1.34, 1.4, 1.46, 1.51, 1.56, 1.6, 1.64, 1.68, 1.72, 1.76, 1.8, 1.86, 1.92, 2.0, 2.1, 2.22, 2.4, 2.65, 1.55, 1.65, 1.4, 1.7, 1.5],
];
const MORE_GMCSF = [
  [1.17, 1.2, 1.26, 1.32, 1.38, 1.44, 1.49, 1.53, 1.57, 1.61, 1.64, 1.67, 1.7, 1.73, 1.76, 1.78, 1.8, 1.82, 1.84, 1.87, 1.9, 1.93, 1.96, 1.99, 2.02, 2.05, 2.1, 2.15, 2.2, 2.27, 2.34, 2.41, 2.46, 1.78, 1.82, 1.72, 1.88, 1.68, 1.95, 1.76],
  [2.08, 2.2, 2.3, 2.37, 2.43, 2.47, 2.51, 2.55, 2.58, 2.59, 2.59, 2.53],
  [1.15, 1.17, 1.2, 1.3],
  [1.15, 1.15, 1.15, 1.15, 1.16, 1.17, 1.18, 1.19, 1.2, 1.22, 1.24, 1.26, 1.28, 1.3, 1.32, 1.34, 1.36, 1.38, 1.41, 1.44, 1.47, 1.5, 1.53, 1.57, 1.61, 1.65, 1.7, 1.76, 1.83, 1.9, 1.28, 1.35, 1.22, 1.42, 1.18, 1.5],
];
const MORE_IL8 = [
  [0.7, 0.8, 0.92, 1.04, 1.15, 1.25, 1.34, 1.42, 1.49, 1.55, 1.6, 1.65, 1.69, 1.73, 1.77, 1.8, 1.83, 1.86, 1.89, 1.92, 1.95, 1.98, 2.01, 2.04, 2.07, 2.11, 2.17, 2.24, 2.31, 2.4, 2.5, 2.58, 1.88, 1.92, 1.82, 1.97, 1.75, 2.02, 1.65, 1.85],
  [2.1, 2.25, 2.35, 2.45, 2.55, 2.62, 2.7, 2.78, 2.85, 2.95, 3.07, 2.65],
  [2.7, 2.88, 3.0, 3.07],
  [0.43, 0.43, 0.43, 0.43, 0.43, 0.55, 0.65, 0.75, 0.84, 0.92, 1.0, 1.07, 1.14, 1.21, 1.27, 1.32, 1.37, 1.42, 1.47, 1.52, 1.57, 1.63, 1.69, 1.76, 1.84, 1.92, 2.0, 2.1, 2.22, 2.35, 2.45, 1.25, 1.35, 1.15, 1.45, 1.05],
];

const BOXES = [BOX_CRP, BOX_IL23, BOX_RANTES, BOX_IL2, BOX_IL6, BOX_IP10, BOX_IFNG, BOX_IL9, BOX_CD14, BOX_TNFA, BOX_IL18, BOX_SDF1A, BOX_EOTAXIN, BOX_GROA, BOX_GMCSF, BOX_IL8];
const POINTS = [PTS_CRP, PTS_IL23, PTS_RANTES, PTS_IL2, PTS_IL6, PTS_IP10, PTS_IFNG, PTS_IL9, PTS_CD14, PTS_TNFA, PTS_IL18, PTS_SDF1A, PTS_EOTAXIN, PTS_GROA, PTS_GMCSF, PTS_IL8];
const MORE_POINTS = [MORE_CRP, MORE_IL23, MORE_RANTES, MORE_IL2, MORE_IL6, MORE_IP10, MORE_IFNG, MORE_IL9, MORE_CD14, MORE_TNFA, MORE_IL18, MORE_SDF1A, MORE_EOTAXIN, MORE_GROA, MORE_GMCSF, MORE_IL8];

// fixed horizontal jitter pattern (display only)
const JITTER = [-0.28, 0.12, 0.31, -0.07, 0.22, -0.33, 0.04, -0.18, 0.27, -0.24, 0.15, -0.02, 0.34, -0.13, 0.08, -0.3, 0.19, -0.09, 0.25, -0.21, 0.01, 0.29, -0.16, 0.11, -0.34, 0.06, -0.26, 0.17, -0.04, 0.32, -0.11, 0.21, -0.29, 0.09, -0.19, 0.26, -0.01, 0.13, -0.23, 0.3];

const PLOT_LEFT = [30, 27, 33, 33, 33, 33, 33, 33, 30, 33, 33, 33, 33, 27, 33, 27];
const FONT = "'Liberation Sans', Arial, Helvetica, sans-serif";
const LABEL_RICH = { t: { color: "#4D4D4D", fontSize: 7.5, fontFamily: FONT } };

function buildOption() {
  const grid: any[] = [];
  const xAxis: any[] = [];
  const yAxis: any[] = [];
  const series: any[] = [];
  const graphic: any[] = [];

  MARKERS.forEach((name, i) => {
    const col = i % 4;
    const row = Math.floor(i / 4);
    const x0 = col * 200;
    const y0 = row * 111;
    const L = PLOT_LEFT[i];
    grid.push({
      left: x0 + L,
      top: y0 + 22,
      width: 197 - L,
      height: 71,
      show: true,
      backgroundColor: "#EBEBEB",
      borderWidth: 0,
    });
    xAxis.push({
      type: "value",
      gridIndex: i,
      min: 0.4,
      max: 4.6,
      axisLine: { show: false },
      axisTick: { show: true, length: 3, lineStyle: { color: "#333333", width: 1 }, customValues: [1, 2, 3, 4] },
      axisLabel: {
        customValues: [1, 2, 3, 4],
        formatter: (v: number) => "{t|" + GROUPS[Math.round(v) - 1] + "}",
        rich: LABEL_RICH,
        color: "#4D4D4D",
        fontSize: 7.5,
        fontFamily: FONT,
        margin: 5,
      },
      splitLine: { show: true, lineStyle: { color: "#FFFFFF", width: 1 } },
    });
    const dec = TICK_DECIMALS[i];
    yAxis.push({
      type: "value",
      gridIndex: i,
      min: Y_LIMITS[i][0],
      max: Y_LIMITS[i][1],
      name: Y_TITLES[i],
      nameLocation: "middle",
      nameRotate: 90,
      nameGap: L - 9,
      nameTextStyle: { color: "#1A1A1A", fontSize: 7, fontFamily: FONT },
      axisLine: { show: false },
      axisTick: { show: true, length: 3, lineStyle: { color: "#333333", width: 1 }, customValues: MAJOR_TICKS[i] },
      axisLabel: {
        customValues: MAJOR_TICKS[i],
        formatter: (v: number) => "{t|" + v.toFixed(dec) + "}",
        rich: LABEL_RICH,
        color: "#4D4D4D",
        fontSize: 7.5,
        fontFamily: FONT,
        margin: 6,
      },
      splitLine: { show: true, lineStyle: { color: "#FFFFFF", width: 1 } },
    });
    yAxis.push({
      type: "value",
      gridIndex: i,
      min: Y_LIMITS[i][0],
      max: Y_LIMITS[i][1],
      axisLine: { show: false },
      axisTick: { show: false, customValues: MINOR_TICKS[i] },
      axisLabel: { show: false, customValues: MINOR_TICKS[i] },
      splitLine: { show: true, lineStyle: { color: "#FFFFFF", width: 0.5 } },
    });

    const boxData = BOXES[i].map((b, g) => [g + 1, b[0], b[1], b[2], b[3], b[4]]);
    series.push({
      type: "custom",
      xAxisIndex: i,
      yAxisIndex: i * 2,
      z: 2,
      silent: true,
      encode: { x: 0, y: [1, 2, 3, 4, 5] },
      data: boxData,
      renderItem: (params: any, api: any) => {
        const x = api.value(0);
        const pLo = api.coord([x, api.value(1)]);
        const pQ1 = api.coord([x, api.value(2)]);
        const pMd = api.coord([x, api.value(3)]);
        const pQ3 = api.coord([x, api.value(4)]);
        const pHi = api.coord([x, api.value(5)]);
        const half = api.size([0.75, 0])[0] / 2;
        const stroke = "#333333";
        return {
          type: "group",
          children: [
            { type: "line", shape: { x1: pLo[0], y1: pLo[1], x2: pQ1[0], y2: pQ1[1] }, style: { stroke, lineWidth: 1 } },
            { type: "line", shape: { x1: pQ3[0], y1: pQ3[1], x2: pHi[0], y2: pHi[1] }, style: { stroke, lineWidth: 1 } },
            {
              type: "rect",
              shape: { x: pQ3[0] - half, y: pQ3[1], width: half * 2, height: pQ1[1] - pQ3[1] },
              style: { fill: "#FFFFFF", stroke, lineWidth: 1 },
            },
            { type: "line", shape: { x1: pMd[0] - half, y1: pMd[1], x2: pMd[0] + half, y2: pMd[1] }, style: { stroke, lineWidth: 2 } },
          ],
        };
      },
    });

    const pts: number[][] = [];
    POINTS[i].forEach((vals, g) => {
      vals.forEach((v, k) => {
        pts.push([g + 1 + JITTER[(g * 11 + k) % JITTER.length], v]);
      });
    });
    MORE_POINTS[i].forEach((vals, g) => {
      vals.forEach((v, k) => {
        pts.push([g + 1 - JITTER[(g * 7 + k + 5) % JITTER.length], v]);
      });
    });
    series.push({
      type: "scatter",
      xAxisIndex: i,
      yAxisIndex: i * 2,
      z: 3,
      silent: true,
      symbol: "circle",
      symbolSize: 3.2,
      itemStyle: { color: "rgba(0,0,0,0.5)" },
      data: pts,
    });

    graphic.push({
      type: "text",
      x: x0 + 101,
      y: y0 + 5.5,
      silent: true,
      style: { text: name, fill: "#111111", fontSize: 12, fontWeight: "normal", fontFamily: FONT, align: "center", verticalAlign: "middle" },
    });
    graphic.push({
      type: "text",
      x: x0 + 101,
      y: y0 + 17.3,
      silent: true,
      style: { text: P_LABELS[i], fill: "#111111", fontSize: 9, fontWeight: "normal", fontFamily: FONT, align: "center", verticalAlign: "middle" },
    });
  });

  return {
    animation: false,
    backgroundColor: "#FFFFFF",
    grid,
    xAxis,
    yAxis,
    series,
    graphic,
  };
}

export default function App() {
  const ref = useRef<HTMLDivElement>(null);
  useEffect(() => {
    if (!ref.current) return;
    const chart = echarts.init(ref.current, undefined, { renderer: "svg" });
    chart.setOption(buildOption() as any);
    return () => chart.dispose();
  }, []);
  return <div ref={ref} style={{ position: "fixed", left: 0, top: 0, width: 800, height: 444 }} />;
}
